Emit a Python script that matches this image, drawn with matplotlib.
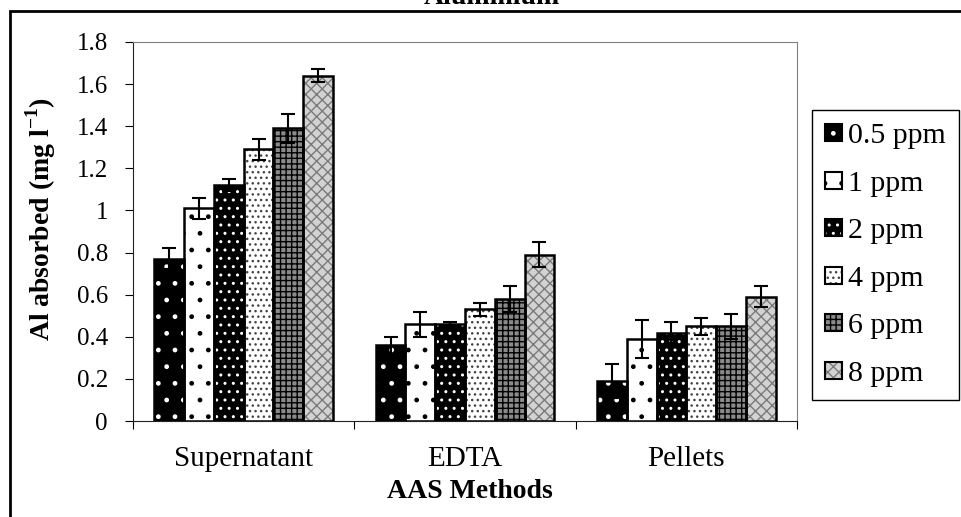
import numpy as np
import matplotlib as mpl
mpl.use('Agg')
import matplotlib.pyplot as plt
from matplotlib.patches import Patch, Rectangle

plt.rcParams['font.family'] = ['Liberation Serif', 'DejaVu Serif']
plt.rcParams['mathtext.fontset'] = 'custom'
plt.rcParams['mathtext.rm'] = 'Liberation Serif'
plt.rcParams['mathtext.bf'] = 'Liberation Serif:bold'
plt.rcParams['hatch.linewidth'] = 1.0

methods = ['Supernatant', 'EDTA', 'Pellets']
doses = ['0.5 ppm', '1 ppm', '2 ppm', '4 ppm', '6 ppm', '8 ppm']

# Al absorbed (mg/l), one value per dose
sup_mean = [0.77, 1.01, 1.12, 1.29, 1.39, 1.64]
sup_err = [0.05, 0.05, 0.03, 0.05, 0.07, 0.03]
edta_mean = [0.36, 0.46, 0.46, 0.53, 0.58, 0.79]
edta_err = [0.04, 0.06, 0.01, 0.03, 0.06, 0.06]
pel_mean = [0.19, 0.39, 0.42, 0.45, 0.45, 0.59]
pel_err = [0.08, 0.09, 0.05, 0.04, 0.06, 0.05]

# excel-ish fill patterns
fills = ['black', 'white', 'black', 'white', '#8a8a8a', '#d2d2d2']
hatch_cols = ['white', 'black', 'white', '#444444', 'black', '#7a7a7a']
hatches = ['.', '.', '..', '...', '+++', 'xxx']

means = np.array([sup_mean, edta_mean, pel_mean])
errs = np.array([sup_err, edta_err, pel_err])

fig = plt.figure(figsize=(9.61, 5.17), dpi=100)
ax = fig.add_axes([133/961, 1-421/517, 664/961, 379/517])

w = 0.1345
handles = []
for i in range(len(doses)):
    x = np.arange(len(methods)) + 0.5 - 3*w + (i + 0.5)*w
    ax.bar(x, means[:, i], w, color=fills[i], edgecolor=hatch_cols[i],
           hatch=hatches[i], linewidth=0, zorder=2)
    ax.bar(x, means[:, i], w, fill=False, edgecolor='black', linewidth=1.8, zorder=3)
    ax.errorbar(x, means[:, i], yerr=errs[:, i], fmt='none', ecolor='black',
                elinewidth=1.5, capsize=4.8, capthick=1.5, zorder=4)
    handles.append((Patch(facecolor=fills[i], edgecolor=hatch_cols[i], hatch=hatches[i], linewidth=0),
                    Patch(fill=False, edgecolor='black', linewidth=1.5)))

ax.set_xlim(0, 3)
ax.set_ylim(0, 1.8)
ax.set_xticks([0, 1, 2, 3])
ax.set_xticklabels([])
ax.set_xticks([0.5, 1.5, 2.5], minor=True)
ax.set_xticklabels(methods, minor=True)
ax.tick_params(axis='x', which='minor', length=0, pad=18, labelsize=21)
ax.tick_params(axis='x', which='major', length=6, direction='out')
yt = np.round(np.arange(0, 1.81, 0.2), 1)
ax.set_yticks(yt)
ax.set_yticklabels([f'{v:g}' for v in yt])
ax.tick_params(axis='y', length=6, pad=12, labelsize=18)
for s in ['top', 'right']:
    ax.spines[s].set_color('#808080')
for s in ['left', 'bottom']:
    ax.spines[s].set_color('#222222')

fig.text(41/961, 1-219/517, r'Al absorbed (mg l$^{\mathbf{-1}}$)', rotation=90,
         ha='center', va='center', fontsize=20, fontweight='bold')
fig.text(470/961, 1-491/517, 'AAS Methods', ha='center', va='center',
         fontsize=20, fontweight='bold')
fig.text(492/961, 1-4/517, 'Aluminium', ha='center', va='baseline',
         fontsize=20, fontweight='bold')

leg = fig.legend(handles, doses, loc='upper left', bbox_to_anchor=(812/961, 1-110/517),
                 fancybox=False, edgecolor='black', framealpha=1, fontsize=21.5,
                 handlelength=0.55, handleheight=0.5, handletextpad=0.2,
                 labelspacing=0.72, borderpad=0.45, borderaxespad=0)
leg.get_frame().set_linewidth(1)

fig.add_artist(Rectangle((10/961, -0.05), 1.0, 1 - 11/517 + 0.05, transform=fig.transFigure,
                         fill=False, linewidth=2, edgecolor='black'))

fig.savefig('out.png', dpi=100)
